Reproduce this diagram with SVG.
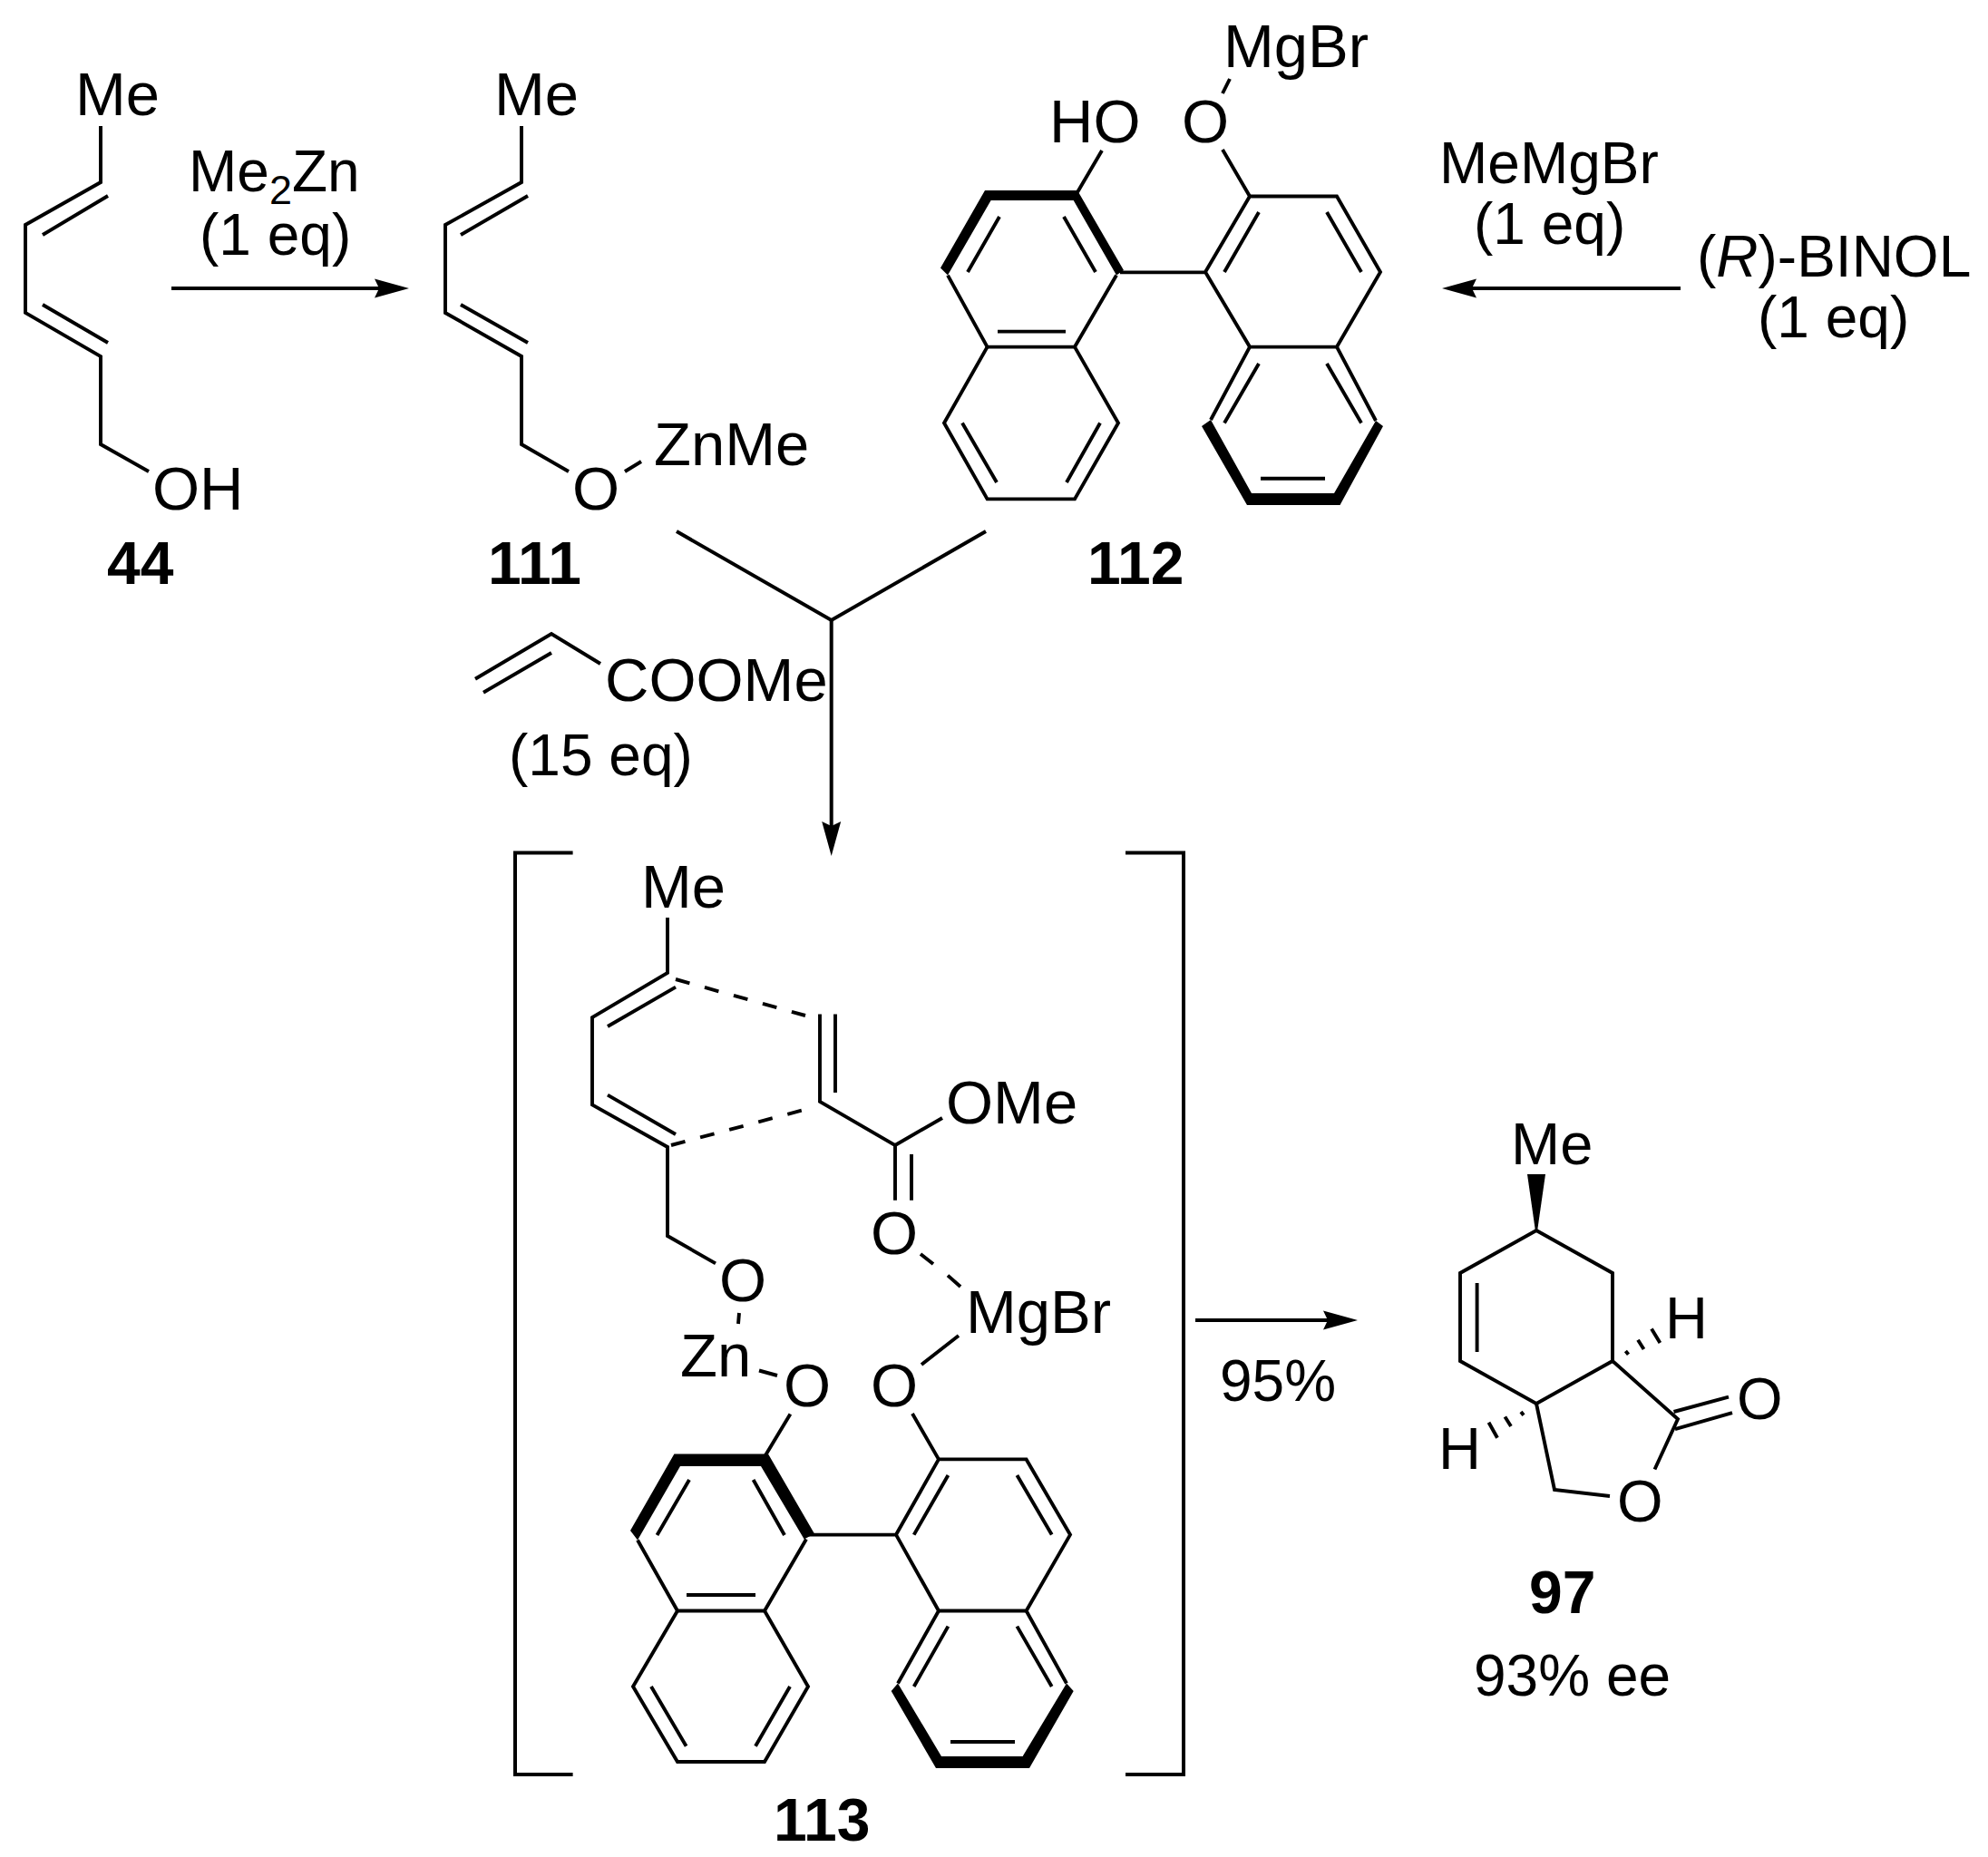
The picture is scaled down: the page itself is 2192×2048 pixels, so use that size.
<svg xmlns="http://www.w3.org/2000/svg" width="2192" height="2048" viewBox="0 0 2192 2048">
<style>
text{font-family:"Liberation Sans",Arial,sans-serif;font-size:67px;fill:#000}
text.r{font-size:64px}
text.m{font-size:65px}
text.b{font-weight:700;font-size:66px}
.s{fill:none;stroke:#000;stroke-width:3.9;stroke-linejoin:miter;stroke-linecap:butt}
.f{fill:#000;stroke:none}
.c{fill:none;stroke:#000;stroke-width:4;stroke-linejoin:miter}
</style>
<defs>
<marker id="arrow" markerUnits="userSpaceOnUse" markerWidth="40" markerHeight="24" refX="5" refY="11" orient="auto" viewBox="0 0 40 24"><path d="M0,0.5 L38,11 L0,21.5 L5,11 Z" fill="#000"/></marker>
</defs>
<rect width="2192" height="2048" fill="#fff"/>

<g id="connectors">
<path class="c" d="M189,318 H418" marker-end="url(#arrow)"/>
<path class="c" d="M1853,318 H1623" marker-end="url(#arrow)"/>
<path class="c" d="M746,586 L916.7,684 L1087,586"/>
<path class="c" d="M916.7,684 V911" marker-end="url(#arrow)"/>
<path class="c" d="M1318,1456 H1464" marker-end="url(#arrow)"/>
</g>

<g id="compound-44">
<path class="s" d="M111,139 V201 L28,248 V345 L111,393 V490 L164,520"/>
<path class="s" d="M119,216 L47,259 M47,336 L119,378"/>
<text x="83" y="127">Me</text>
<text x="168" y="562">OH</text>
<text class="b" x="118" y="644">44</text>
</g>

<g id="reagent-me2zn">
<text class="r" x="208" y="211">Me<tspan font-size="45" dy="13.5">2</tspan><tspan dy="-13.5">Zn</tspan></text>
<text class="r" x="220" y="281">(1 eq)</text>
</g>

<g id="compound-111">
<path class="s" d="M575,139 V201 L491,248 V345 L575,393 V490 L627,520"/>
<path class="s" d="M582,216 L508,259 M508,336 L582,378 M689,520 L707,509"/>
<text x="545" y="127">Me</text>
<text x="631" y="562">O</text>
<text x="721" y="513">ZnMe</text>
<text class="b" x="538" y="644">111</text>
</g>

<g id="compound-112">
<path class="f" d="M1086,210 H1188 L1239,298 L1231,303.6 L1183.7,221 H1092.6 L1045,303.6 L1037,295.5 Z"/>
<path class="f" d="M1325,470 L1335,463 L1380,544 H1471 L1517,464 L1525,470 L1477.5,557 H1375 Z"/>
<path class="s" d="M1045,303.6 L1088.6,382.6 H1185 L1231,303.6 M1102,239 L1067,300 M1173,239 L1208,300 M1100,365.6 H1175"/>
<path class="s" d="M1088.6,382.6 L1041,466.5 L1088.6,550.4 H1185 L1233,466.5 L1185,382.6 M1061,466.5 L1099,532 M1213,466.5 L1176,532"/>
<path class="s" d="M1235,300.4 H1329 M1378,216.5 H1474 L1522,300 L1474,382.6 H1378 L1329,300 Z M1388,234 L1350,300 M1463,234 L1501,300"/>
<path class="s" d="M1378,382.6 L1335,463 M1474,382.6 L1517,464 M1388,401 L1350,466.5 M1463,401 L1501,466.5 M1390,527.7 H1461"/>
<path class="s" d="M1215,166 L1188,212 M1348,165 L1378,216.5 M1356,87 L1348,103"/>
<text x="1349" y="74">MgBr</text>
<text x="1157" y="157">HO</text>
<text x="1303" y="157">O</text>
<text class="b" x="1199" y="644">112</text>
</g>

<g id="reagent-memgbr">
<text class="r" x="1587" y="202">MeMgBr</text>
<text class="r" x="1625" y="269">(1 eq)</text>
</g>

<g id="reagent-binol">
<text class="r" x="1871" y="304.5">(<tspan font-style="italic">R</tspan>)-BINOL</text>
<text class="r" x="1938" y="372">(1 eq)</text>
</g>

<g id="reagent-acrylate">
<path class="s" d="M524,748.7 L608,699 L662,732 M533,763.7 L608,720"/>
<text x="667" y="772.7">COOMe</text>
<text class="r" x="561" y="855">(15 eq)</text>
</g>

<g id="compound-113">
<path class="c" d="M631.6,940.6 H568 V1957 H631.6 M1241,940.6 H1305 V1957 H1241"/>
<path class="s" d="M736,1012 V1073 L653,1122 V1218.4 L736,1265 V1363 L789,1393.4"/>
<path class="s" d="M745,1088.6 L670,1132 M670,1207.6 L745,1251"/>
<path class="s" stroke-width="4.4" stroke-dasharray="16 17.2" d="M745,1080 L888,1120"/>
<path class="s" stroke-width="4.4" stroke-dasharray="16 17.2" d="M740,1263 L884,1224.6"/>
<path class="s" d="M904,1118.5 V1215 L987,1263 V1323.7 M921,1118.5 V1205 M987,1263 L1039,1233 M1005,1273 V1323.7"/>
<path class="s" d="M1015,1383 L1029,1394 M1045,1406.6 L1059,1419 M815,1448 L814,1460 M837,1511.5 L857,1517 M1016,1505 L1057,1473"/>
<path class="s" d="M871.4,1559.4 L844,1605 M1006,1559 L1035,1609.4"/>
<path class="f" d="M743.4,1603.5 H847 L898,1691.5 L886.7,1697.5 L839,1617 H750 L703,1698.5 L695,1688 Z"/>
<path class="f" d="M982.7,1865 L990,1856.5 L1038,1937 H1127.6 L1176,1856.5 L1183.7,1865 L1135,1950 H1032 Z"/>
<path class="s" d="M703,1698.5 L747,1776.5 H843 L889,1697.5 M760,1632 L724.5,1693 M830.6,1632 L865,1693 M757,1759 H833"/>
<path class="s" d="M747,1776.5 L698,1860 L747,1943 H843 L891,1860 L843,1776.5 M718,1860 L756.6,1925.7 M871,1860 L833,1925.7"/>
<path class="s" d="M891,1692.6 H988 M1035,1609.4 H1131.6 L1180,1692.6 L1131.6,1776.5 H1035 L988,1692.6 Z M1045.4,1627 L1007.7,1692.6 M1121.4,1627 L1159.7,1692.6"/>
<path class="s" d="M1035,1776.5 L990,1856.5 M1131.6,1776.5 L1176,1856.5 M1045.4,1793.6 L1007.7,1860 M1121.4,1793.6 L1159.7,1860 M1048,1921 H1119"/>
<text x="707" y="1000.7">Me</text>
<text x="1043" y="1238.7">OMe</text>
<text x="960" y="1383">O</text>
<text x="1065" y="1470">MgBr</text>
<text x="793" y="1435">O</text>
<text x="750" y="1517.7">Zn</text>
<text x="864" y="1550.7">O</text>
<text x="960" y="1550.7">O</text>
<text class="b" x="853" y="2029.5">113</text>
</g>

<g id="label-yield">
<text class="r" x="1345" y="1544.6">95%</text>
</g>

<g id="compound-97">
<path class="f" d="M1684,1295 H1704 L1695,1358 H1693 Z"/>
<path class="s" d="M1694,1357 L1778,1404 V1501 L1694,1548 L1610,1501 V1404 Z M1694,1548 L1778,1501 M1628.6,1415 V1491"/>
<path class="s" d="M1694,1548 L1714,1643 L1775,1650 M1778,1501 L1850,1565 L1824.5,1620.5 M1845.5,1557 L1906,1540.6 M1847,1576 L1910,1558"/>
<path class="s" d="M1792.4,1490 L1795.5,1493.8 M1806,1477.7 L1812.5,1488 M1821,1465.6 L1830.4,1481 M1677,1557 L1680,1560.7 M1659.4,1562.5 L1666,1573 M1641.5,1568.8 L1651,1585.7"/>
<text class="m" x="1666" y="1283.5">Me</text>
<text class="m" x="1915" y="1565">O</text>
<text class="m" x="1783" y="1677.7">O</text>
<text class="m" x="1836" y="1476">H</text>
<text class="m" x="1586" y="1619.6">H</text>
<text class="b" x="1686" y="1778.6">97</text>
<text class="r" x="1625" y="1869.6">93% ee</text>
</g>
</svg>
